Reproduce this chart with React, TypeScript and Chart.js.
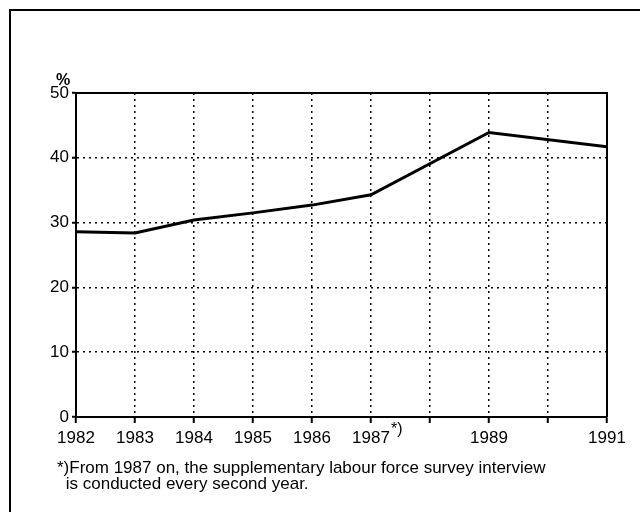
import { useEffect, useRef } from "react";
import { Chart, registerables } from "chart.js";
Chart.register(...registerables);

const years = [1982, 1983, 1984, 1985, 1986, 1987, 1989, 1991];
const shares = [28.6, 28.4, 30.4, 31.5, 32.7, 34.3, 43.9, 41.7];
const labelledYears = [1982, 1983, 1984, 1985, 1986, 1987, 1989, 1991];
const markedYear = 1987;
const markText = "*)";
const unitLabel = "%";
const footnoteLines = [
  "*)From 1987 on, the supplementary labour force survey interview",
  " is conducted every second year.",
];

const FONT = "'Liberation Sans', Arial, sans-serif";

const decorPlugin = {
  id: "decor",
  afterDraw(chart: any) {
    const { ctx, chartArea } = chart;
    const xs = chart.scales.x;
    ctx.save();
    ctx.strokeStyle = "#000";
    ctx.lineWidth = 2;
    ctx.beginPath();
    ctx.moveTo(10, 520);
    ctx.lineTo(10, 10);
    ctx.lineTo(650, 10);
    ctx.stroke();
    ctx.beginPath();
    ctx.moveTo(chartArea.left, chartArea.top);
    ctx.lineTo(chartArea.right, chartArea.top);
    ctx.lineTo(chartArea.right, chartArea.bottom);
    ctx.stroke();
    ctx.fillStyle = "#000";
    ctx.font = `bold 16px ${FONT}`;
    ctx.textAlign = "center";
    ctx.textBaseline = "alphabetic";
    ctx.fillText(unitLabel, 63, 85);
    ctx.font = `16px ${FONT}`;
    ctx.textAlign = "left";
    ctx.fillText(markText, xs.getPixelForValue(markedYear) + 20, 434);
    ctx.font = `17px ${FONT}`;
    ctx.fillText(footnoteLines[0], 57, 473);
    ctx.fillText(footnoteLines[1], 61, 489);
    ctx.restore();
  },
};

export default function App() {
  const ref = useRef<HTMLCanvasElement>(null);
  useEffect(() => {
    const chart = new Chart(ref.current!, {
      type: "line",
      data: {
        datasets: [
          {
            data: years.map((y, i) => ({ x: y, y: shares[i] })),
            borderColor: "#000",
            borderWidth: 3,
            pointRadius: 0,
            tension: 0,
            fill: false,
          },
        ],
      },
      options: {
        animation: false,
        responsive: false,
        maintainAspectRatio: false,
        layout: { padding: { left: 0, top: 93, right: 33, bottom: 0 } },
        plugins: { legend: { display: false }, tooltip: { enabled: false } },
        scales: {
          x: {
            type: "linear",
            min: 1982,
            max: 1991,
            afterFit: (s: any) => {
              s.height = 95;
            },
            afterBuildTicks: (s: any) => {
              const t = [];
              for (let v = 1982; v <= 1991; v++) t.push({ value: v });
              s.ticks = t;
            },
            ticks: {
              autoSkip: false,
              maxRotation: 0,
              padding: 5,
              color: "#000",
              font: { family: FONT, size: 17 },
              callback: (v: any) => (labelledYears.includes(v) ? String(v) : ""),
            },
            grid: {
              color: "#000",
              lineWidth: 1.5,
              tickColor: "#000",
              tickWidth: 2,
              tickLength: 6,
            },
            border: { display: true, color: "#000", width: 2, dash: [2, 4] },
          },
          y: {
            min: 0,
            max: 50,
            afterFit: (s: any) => {
              s.width = 76;
            },
            ticks: {
              stepSize: 10,
              padding: 3,
              color: "#000",
              font: { family: FONT, size: 17 },
            },
            grid: {
              color: "#000",
              lineWidth: 1.5,
              tickColor: "#000",
              tickWidth: 2,
              tickLength: 4,
            },
            border: { display: true, color: "#000", width: 2, dash: [2, 4] },
          },
        },
      },
      plugins: [decorPlugin],
    });
    return () => chart.destroy();
  }, []);
  return (
    <div style={{ position: "fixed", left: 0, top: 0, width: 640, height: 512, background: "#fff" }}>
      <canvas ref={ref} width={640} height={512} style={{ display: "block" }} />
    </div>
  );
}
